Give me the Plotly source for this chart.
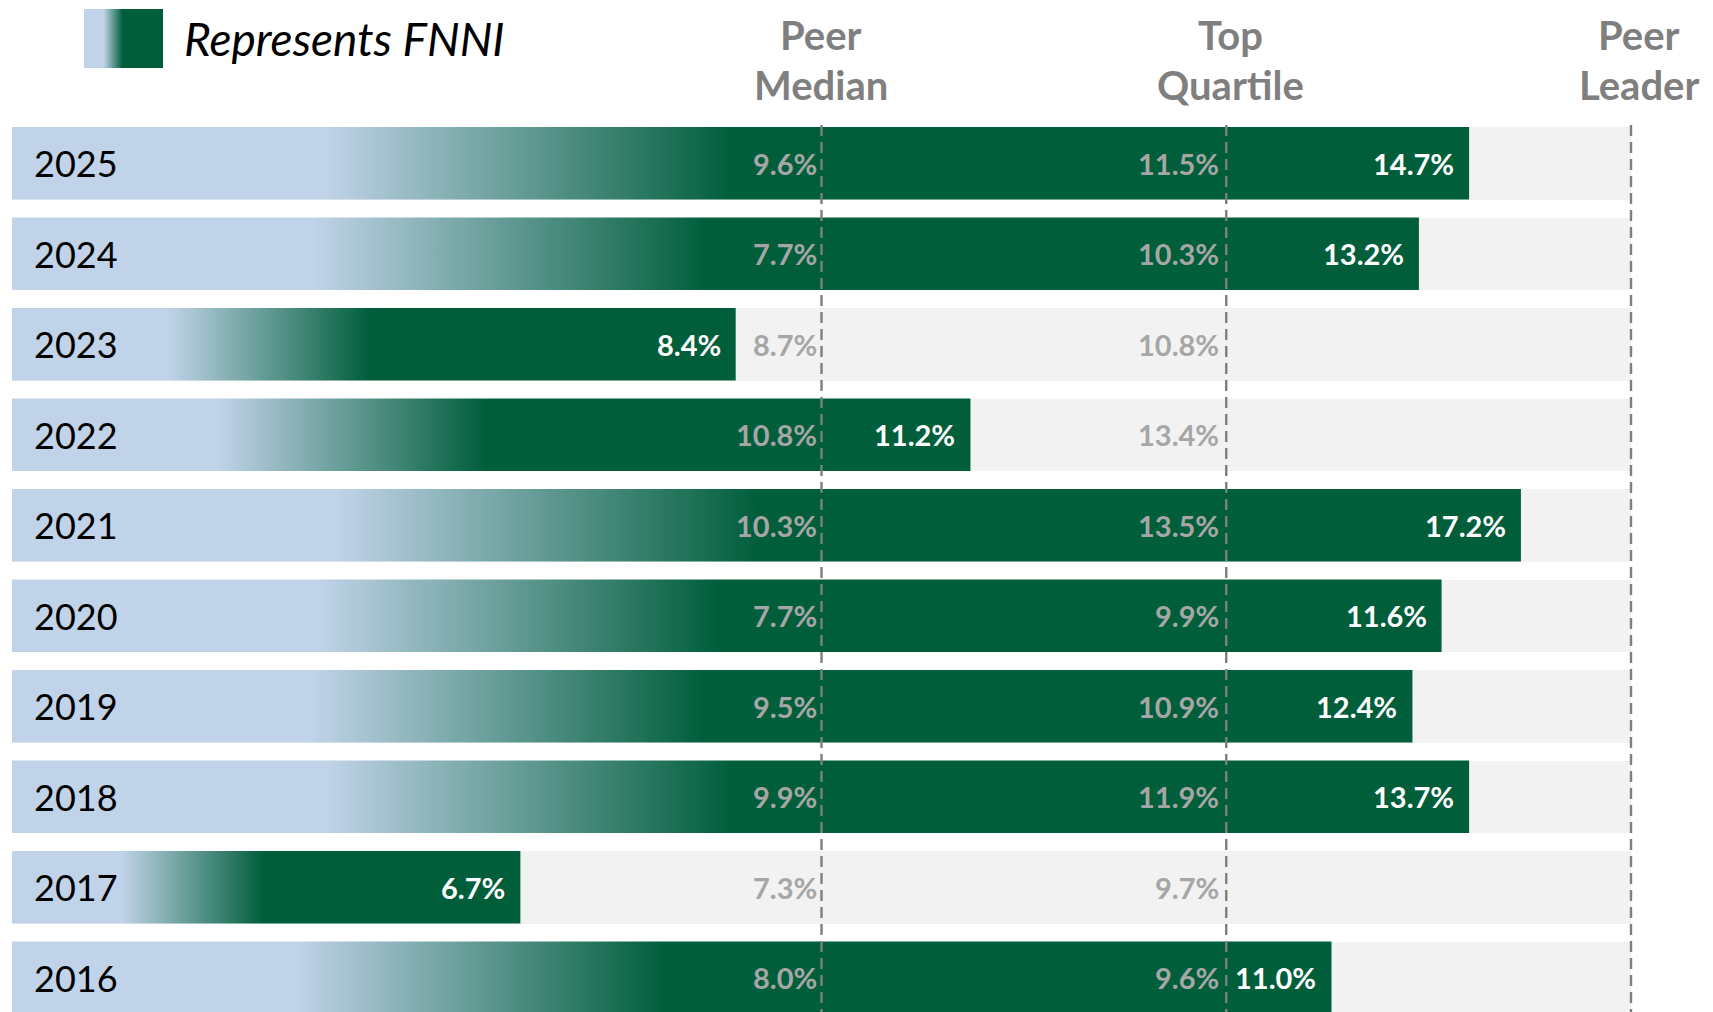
import plotly.graph_objects as go

# ---------------- data ----------------
years = ["2025", "2024", "2023", "2022", "2021", "2020", "2019", "2018", "2017", "2016"]
fnni_value = [14.7, 13.2, 8.4, 11.2, 17.2, 11.6, 12.4, 13.7, 6.7, 11.0]
fnni_pctile = [90.0, 86.9, 44.7, 59.2, 93.2, 88.3, 86.5, 90.0, 31.4, 81.5]
peer_median = [9.6, 7.7, 8.7, 10.8, 10.3, 7.7, 9.5, 9.9, 7.3, 8.0]
top_quartile = [11.5, 10.3, 10.8, 13.4, 13.5, 9.9, 10.9, 11.9, 9.7, 9.6]
benchmark_names = ["Peer Median", "Top Quartile", "Peer Leader"]
benchmark_pctile = [50, 75, 100]

# ---------------- style ----------------
FONT = "Lato, 'Liberation Sans', Arial, sans-serif"
BLUE = "#C0D3E8"
GREEN = "#005E3B"
BG = "#F2F2F2"
GREY_TXT = "#A6A6A6"
HDR_TXT = "#7F7F7F"
LINE = "#7F7F7F"
BAR_W = 0.8
bar_scale = [[0, BLUE], [0.215, BLUE], [0.495, GREEN], [1, GREEN]]
header_xshift = [-1, 4, 8]

W, H = 1713, 1012
OFF = 8  # page body margin
X0_PX, PX_PER_PCT = 12 - OFF, 16.19
ROW0_PX, ROW_PX = 163.3 - OFF, 90.5


def py(px):
    """page pixel (from top) -> paper fraction"""
    return 1 - (px - OFF) / H


def pxx(px):
    return (px - OFF) / W


idx = list(range(len(years)))
leader = benchmark_pctile[-1]

fig = go.Figure()

# grey background bars (0 .. peer leader)
fig.add_trace(go.Bar(
    orientation="h", y=idx, x=[leader] * len(idx), base=0, width=BAR_W,
    marker=dict(color=BG, line=dict(width=0)), hoverinfo="skip", showlegend=False,
))

# gradient FNNI bars
for i, p in zip(idx, fnni_pctile):
    lo, hi = i - BAR_W / 2, i + BAR_W / 2
    fig.add_trace(go.Scatter(
        x=[0, p, p, 0, 0], y=[lo, lo, hi, hi, lo], mode="lines",
        line=dict(width=0, color=GREEN), fill="toself",
        fillgradient=dict(type="horizontal", colorscale=bar_scale),
        hoverinfo="skip", showlegend=False,
    ))

# legend swatch (overlay axes in paper-like units)
sx0, sx1 = pxx(84), pxx(163)
sy0, sy1 = py(68), py(9)
fig.add_trace(go.Scatter(
    x=[sx0, sx1, sx1, sx0, sx0], y=[sy0, sy0, sy1, sy1, sy0], mode="lines",
    line=dict(width=0, color=GREEN), fill="toself",
    fillgradient=dict(type="horizontal", colorscale=[[0, BLUE], [0.25, BLUE], [0.49, GREEN], [1, GREEN]]),
    xaxis="x2", yaxis="y2", hoverinfo="skip", showlegend=False,
))

annotations = []
annotations.append(dict(
    x=pxx(182), y=py(38), xref="paper", yref="paper", xanchor="left", yanchor="middle",
    text="<i>Represents FNNI</i>", showarrow=False,
    font=dict(family=FONT, size=46, color="#000000"),
))

# headers
for name, p, xs in zip(benchmark_names, benchmark_pctile, header_xshift):
    first, second = name.split(" ")
    for word, ypx in ((first, 35), (second, 85)):
        annotations.append(dict(
            x=p, y=py(ypx), xref="x", yref="paper", xanchor="center", yanchor="middle",
            xshift=xs, text=f"<b>{word}</b>", showarrow=False,
            font=dict(family=FONT, size=40, color=HDR_TXT),
        ))

# row labels and values
for i, yr, fv, fp, med, tq in zip(idx, years, fnni_value, fnni_pctile, peer_median, top_quartile):
    annotations.append(dict(
        x=0, y=i, xref="x", yref="y", xanchor="left", yanchor="middle", xshift=20,
        text=yr, showarrow=False, font=dict(family=FONT, size=36, color="#000000"),
    ))
    annotations.append(dict(
        x=benchmark_pctile[0], y=i, xref="x", yref="y", xanchor="right", yanchor="middle", xshift=-3,
        text=f"<b>{med:.1f}%</b>", showarrow=False, font=dict(family=FONT, size=29, color=GREY_TXT),
    ))
    annotations.append(dict(
        x=benchmark_pctile[1], y=i, xref="x", yref="y", xanchor="right", yanchor="middle", xshift=-5,
        text=f"<b>{tq:.1f}%</b>", showarrow=False, font=dict(family=FONT, size=29, color=GREY_TXT),
    ))
    annotations.append(dict(
        x=fp, y=i, xref="x", yref="y", xanchor="right", yanchor="middle", xshift=-13,
        text=f"<b>{fv:.1f}%</b>", showarrow=False, font=dict(family=FONT, size=29, color="#FFFFFF"),
    ))

shapes = []
for p in benchmark_pctile:
    shapes.append(dict(
        type="line", xref="x", yref="paper", x0=p, x1=p, y0=0, y1=py(122),
        line=dict(color=LINE, width=2.4, dash="11px,6px"), layer="above",
    ))

fig.update_layout(
    width=W, height=H, margin=dict(l=0, r=0, t=0, b=0),
    paper_bgcolor="white", plot_bgcolor="white", showlegend=False, bargap=0,
    xaxis=dict(range=[-X0_PX / PX_PER_PCT, (W - X0_PX) / PX_PER_PCT], visible=False, fixedrange=True),
    yaxis=dict(range=[(H - ROW0_PX) / ROW_PX, -ROW0_PX / ROW_PX], visible=False, fixedrange=True),
    xaxis2=dict(range=[0, 1], overlaying="x", visible=False, fixedrange=True),
    yaxis2=dict(range=[0, 1], overlaying="y", visible=False, fixedrange=True),
    annotations=annotations, shapes=shapes,
)

fig.write_html("out.html")
